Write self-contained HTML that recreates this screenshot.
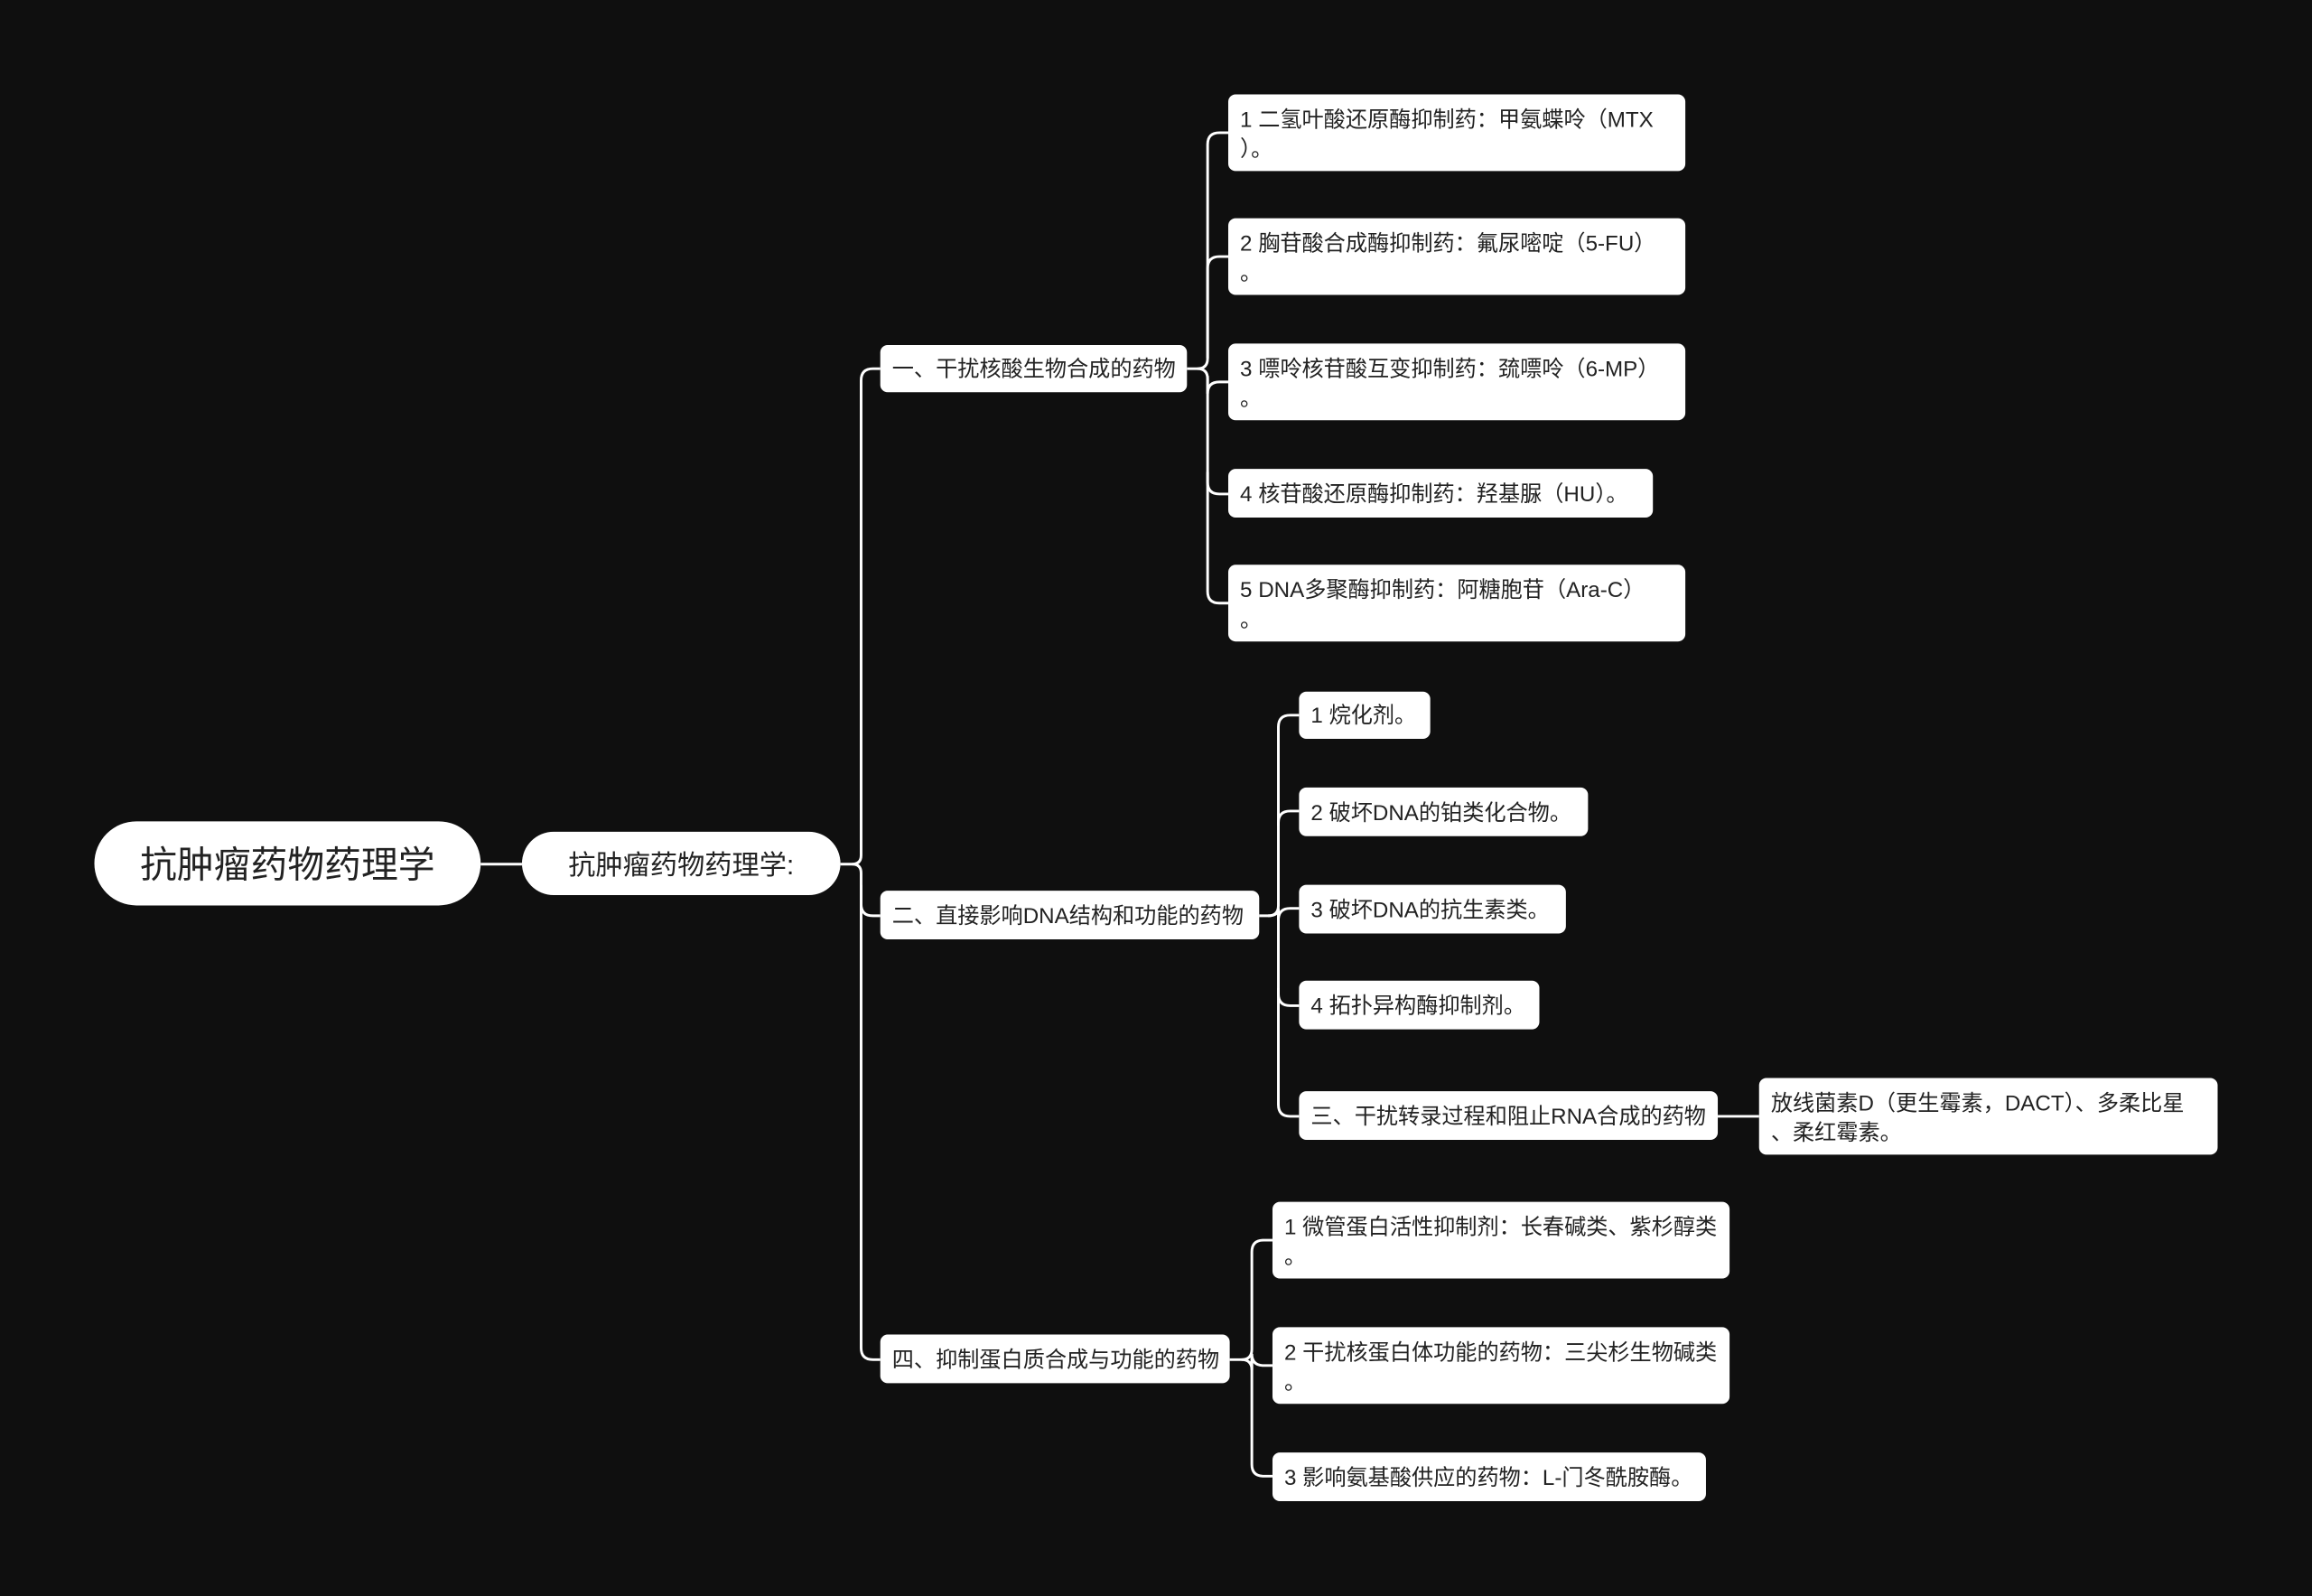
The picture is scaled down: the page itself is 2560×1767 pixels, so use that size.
<!DOCTYPE html>
<html><head><meta charset="utf-8"><style>
html,body{margin:0;padding:0;background:#0f0f0f;width:2560px;height:1767px;overflow:hidden}
#w{position:absolute;left:0;top:0;width:1568px;height:1082px;transform:scale(1.63265);transform-origin:0 0}
.n{position:absolute;background:#fff;color:#222;border-radius:5px;box-sizing:border-box;font-family:"Liberation Sans","Noto Sans CJK SC",sans-serif;font-size:14.8px;line-height:20px;padding:8px 8px 4px;white-space:nowrap;overflow:hidden}
.c{display:flex;align-items:center;padding-top:2px;padding-bottom:0}
svg{position:absolute;left:0;top:0}
</style></head><body><div id="w">
<svg width="1568" height="1082" fill="none" stroke="#fff" stroke-width="1.8">
<path d="M326 586H354"/>
<path d="M570 586H578Q584 586 584 580V258Q584 250 592 250H597"/>
<path d="M578 586Q584 586 584 592V613Q584 621 592 621H597"/>
<path d="M584 600V914Q584 922 592 922H597"/>
<path d="M805 250H812Q819 250 819 243V98Q819 90 827 90H833"/>
<path d="M819 243V182Q819 174 827 174H833"/>
<path d="M812 250Q819 250 819 257V267Q819 259 827 259H833"/>
<path d="M819 255V327Q819 335 827 335H833"/>
<path d="M819 320V401Q819 409 827 409H833"/>
<path d="M854 621H860Q867 621 867 614V493Q867 485 875 485H881"/>
<path d="M867 560V558Q867 550 875 550H881"/>
<path d="M860 621Q867 621 867 616V624Q867 616 875 616H881"/>
<path d="M867 621V674Q867 682 875 682H881"/>
<path d="M867 670V749Q867 757 875 757H881"/>
<path d="M1165 757H1193"/>
<path d="M834 922H842Q849 922 849 915V849Q849 841 857 841H863"/>
<path d="M842 922Q849 922 849 929V918Q849 926 857 926H863"/>
<path d="M849 922V993Q849 1001 857 1001H863"/>
</svg>
<div class="n c" style="left:64px;top:557px;width:262px;height:57px;border-radius:29px;font-size:25px;justify-content:center;padding:2px 0 0">抗肿瘤药物药理学</div>
<div class="n c" style="left:354px;top:564px;width:216px;height:43px;border-radius:22px;font-size:18.5px;justify-content:center;padding:2px 0 0">抗肿瘤药物药理学:</div>
<div class="n c" style="left:597px;top:234px;width:208px;height:32px">一、干扰核酸生物合成的药物</div>
<div class="n c" style="left:597px;top:604px;width:257px;height:33px">二、直接影响DNA结构和功能的药物</div>
<div class="n c" style="left:597px;top:905px;width:237px;height:33px">四、抑制蛋白质合成与功能的药物</div>
<div class="n" style="left:833px;top:64px;width:310px;height:52px">1 二氢叶酸还原酶抑制药：甲氨蝶呤（MTX<br>）。</div>
<div class="n" style="left:833px;top:148px;width:310px;height:52px">2 胸苷酸合成酶抑制药：氟尿嘧啶（5-FU）<br>。</div>
<div class="n" style="left:833px;top:233px;width:310px;height:52px">3 嘌呤核苷酸互变抑制药：巯嘌呤（6-MP）<br>。</div>
<div class="n c" style="left:833px;top:318px;width:288px;height:33px">4 核苷酸还原酶抑制药：羟基脲（HU）。</div>
<div class="n" style="left:833px;top:383px;width:310px;height:52px">5 DNA多聚酶抑制药：阿糖胞苷（Ara-C）<br>。</div>
<div class="n c" style="left:881px;top:469px;width:89px;height:32px">1 烷化剂。</div>
<div class="n c" style="left:881px;top:534px;width:196px;height:33px">2 破坏DNA的铂类化合物。</div>
<div class="n c" style="left:881px;top:600px;width:181px;height:33px">3 破坏DNA的抗生素类。</div>
<div class="n c" style="left:881px;top:665px;width:163px;height:33px">4 拓扑异构酶抑制剂。</div>
<div class="n c" style="left:881px;top:740px;width:284px;height:33px">三、干扰转录过程和阻止RNA合成的药物</div>
<div class="n" style="left:1193px;top:731px;width:311px;height:52px">放线菌素D（更生霉素，DACT）、多柔比星<br>、柔红霉素。</div>
<div class="n" style="left:863px;top:815px;width:310px;height:52px">1 微管蛋白活性抑制剂：长春碱类、紫杉醇类<br>。</div>
<div class="n" style="left:863px;top:900px;width:310px;height:52px">2 干扰核蛋白体功能的药物：三尖杉生物碱类<br>。</div>
<div class="n c" style="left:863px;top:985px;width:294px;height:33px">3 影响氨基酸供应的药物：L-门冬酰胺酶。</div>
</div></body></html>
